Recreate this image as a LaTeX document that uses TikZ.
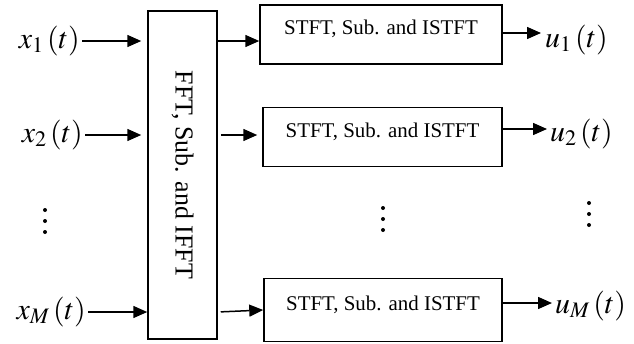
\documentclass[tikz,border=0pt]{standalone}
\usepackage{mathptmx}
\usepackage{fontspec}
\setmainfont{Liberation Serif}
\usetikzlibrary{arrows.meta}

\tikzset{
  blk/.style={draw, line width=1.5bp, inner sep=0pt},
  stft/.style={blk, minimum height=59bp, font=\fontsize{21}{23}\selectfont,
    text height=10bp, text depth=10bp},
  sig/.style={font=\fontsize{30}{32}\selectfont, inner xsep=2bp, inner ysep=0pt},
  flow/.style={line width=1.5bp, -{Triangle[length=14bp,width=12bp]}},
}

\begin{document}
\begin{tikzpicture}[x=1bp,y=-1bp]
  \useasboundingbox (0,0) rectangle (634,343);

  %%%%% blocks %%%%%
  \node[blk, minimum width=69bp, minimum height=328bp] (fb) at (182.5,175) {};
  \node[rotate=-90, font=\fontsize{26}{28}\selectfont] at (fb) {FFT, Sub. and IFFT};

  \node[stft, minimum width=242bp] (s1) at (381,34.5) {STFT, Sub. and ISTFT};
  \node[stft, minimum width=239bp] (s2) at (382.5,137) {STFT, Sub. and ISTFT};
  \node[stft, minimum width=238bp, minimum height=63bp] (s3) at (383,310) {STFT, Sub. and ISTFT};

  %%%%% inputs %%%%%
  \node[sig, anchor=east] (x1) at (82,41) {$x_1\,(t)$};
  \node[sig, anchor=east] (x2) at (85,135) {$x_2\,(t)$};
  \node[sig, anchor=east] (xM) at (88,312) {$x_M\,(t)$};

  \draw[flow, shorten >=6bp] (x1) -- (x1 -| fb.west);
  \draw[flow, shorten >=6bp] (x2) -- (x2 -| fb.west);
  \draw[flow] (xM) -- (xM -| fb.west);

  \draw[flow] (fb.east |- x1) -- (s1.west |- x1);
  \draw[flow, shorten <=3bp, shorten >=5bp] (fb.east |- x2) -- (s2.west |- x2);
  \draw[flow, shorten <=3bp] (fb.east |- xM) -- (s3.west);

  %%%%% outputs %%%%%
  \coordinate (o1) at (541,33);
  \coordinate (o2) at (547,129);
  \coordinate (oM) at (552,303);
  \node[sig, anchor=west] (u1) at (543,40) {$u_1\,(t)$};
  \node[sig, anchor=west] (u2) at (548,134) {$u_2\,(t)$};
  \node[sig, anchor=west] (uM) at (553,306) {$u_M\,(t)$};

  \draw[flow] (s1.east |- o1) -- (o1);
  \draw[flow] (s2.east |- o2) -- (o2);
  \draw[flow] (s3.east |- oM) -- (oM);

  %%%%% dots %%%%%
  \foreach \dx/\dy in {45/210, 383/208, 589/203}
    \foreach \k in {0,1,2}
      \fill (\dx,\dy+11*\k) circle (2bp);
\end{tikzpicture}
\end{document}
